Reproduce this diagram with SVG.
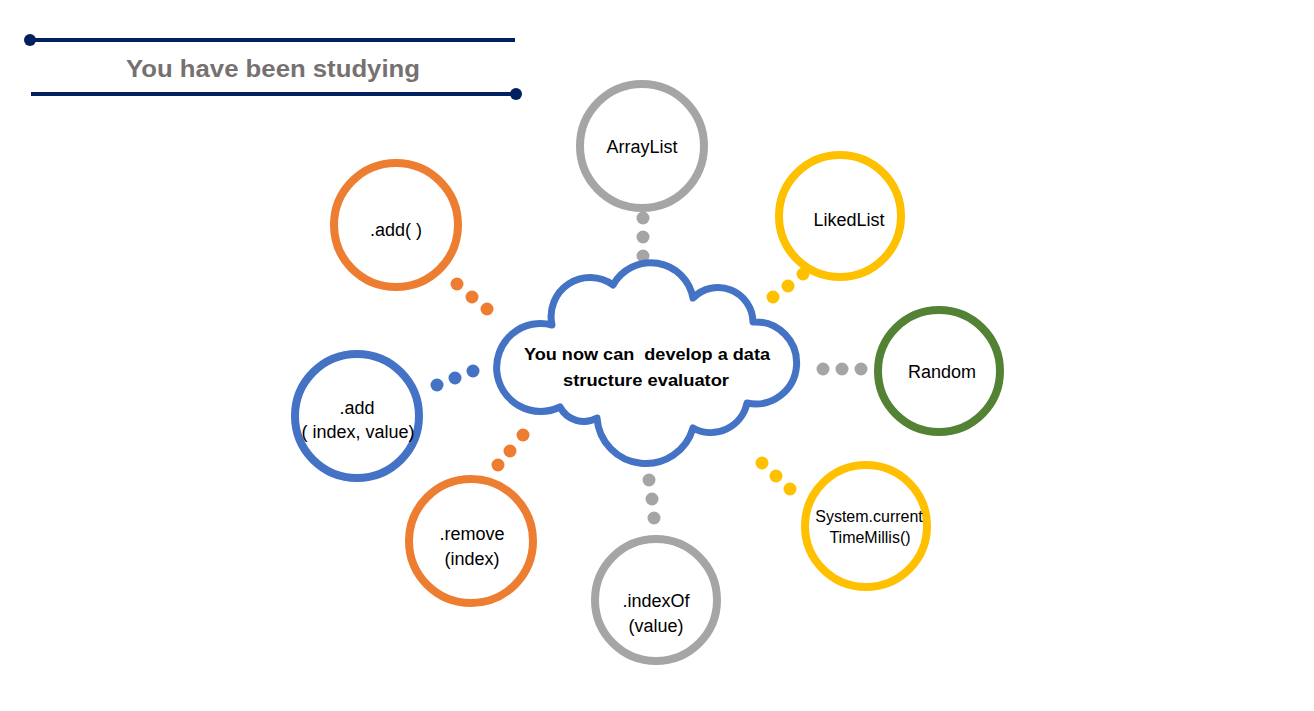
<svg xmlns="http://www.w3.org/2000/svg" width="1314" height="711" viewBox="0 0 1314 711">
<style>
.ring{fill:#fff;stroke-width:8}
.gray{stroke:#A5A5A5}
.orange{stroke:#ED7D31}
.yellow{stroke:#FFC000}
.green{stroke:#548235}
.blue{stroke:#4472C4}
.lbl{font-family:"Liberation Sans",Arial,sans-serif;font-size:18px;fill:#000;text-anchor:middle}
.sm{font-size:16px}
.dg{fill:#A5A5A5}.do{fill:#ED7D31}.dy{fill:#FFC000}.db{fill:#4472C4}
</style>
<rect width="1314" height="711" fill="#fff"/>
<g id="title">
<line x1="30" y1="40" x2="515" y2="40" stroke="#002060" stroke-width="4"/>
<circle cx="30" cy="40" r="6" fill="#002060"/>
<line x1="31" y1="94" x2="516" y2="94" stroke="#002060" stroke-width="4"/>
<circle cx="516" cy="94" r="6" fill="#002060"/>
<text x="273" y="77" font-family="'Liberation Sans',Arial,sans-serif" font-size="24" font-weight="bold" fill="#767171" text-anchor="middle" textLength="294" lengthAdjust="spacingAndGlyphs">You have been studying</text>
</g>
<g id="connectors">
<circle class="dg" cx="643" cy="218" r="6.5"/><circle class="dg" cx="643" cy="237" r="6.5"/><circle class="dg" cx="643" cy="256" r="6.5"/>
<circle class="do" cx="457" cy="284" r="6.5"/><circle class="do" cx="472" cy="297" r="6.5"/><circle class="do" cx="487" cy="309" r="6.5"/>
<circle class="db" cx="437" cy="385" r="6.5"/><circle class="db" cx="455" cy="378" r="6.5"/><circle class="db" cx="473" cy="371" r="6.5"/>
<circle class="dy" cx="773" cy="297" r="6.5"/><circle class="dy" cx="788" cy="286" r="6.5"/><circle class="dy" cx="803" cy="274" r="6.5"/>
<circle class="dg" cx="823" cy="369" r="6.5"/><circle class="dg" cx="842" cy="369" r="6.5"/><circle class="dg" cx="861" cy="369" r="6.5"/>
<circle class="dy" cx="762" cy="463" r="6.5"/><circle class="dy" cx="776" cy="476" r="6.5"/><circle class="dy" cx="790" cy="489" r="6.5"/>
<circle class="do" cx="523" cy="435" r="6.5"/><circle class="do" cx="510" cy="451" r="6.5"/><circle class="do" cx="498" cy="465" r="6.5"/>
<circle class="dg" cx="649" cy="480" r="6.5"/><circle class="dg" cx="652" cy="499" r="6.5"/><circle class="dg" cx="654" cy="518" r="6.5"/>
</g>
<g id="cloud">
<path d="M560 407 A44 44 0 1 1 552 325 A39 39 0 0 1 613 285 A43 43 0 0 1 693 298 A35 35 0 0 1 753 322 A41 41 0 1 1 747 403 A37 37 0 0 1 693 428 A49 49 0 0 1 597 418 A27 27 0 0 1 560 407 Z" fill="#fff" stroke="#4472C4" stroke-width="7" stroke-linejoin="round"/>
<text font-family="'Liberation Sans',Arial,sans-serif" font-size="17" font-weight="bold" fill="#000" text-anchor="middle" xml:space="preserve"><tspan x="647" y="360" textLength="246" lengthAdjust="spacingAndGlyphs">You now can  develop a data</tspan><tspan x="646" y="386" textLength="166" lengthAdjust="spacingAndGlyphs">structure evaluator</tspan></text>
</g>
<g id="arraylist"><circle class="ring gray" cx="642" cy="146" r="62"/><text class="lbl" x="642" y="153">ArrayList</text></g>
<g id="add"><circle class="ring orange" cx="396" cy="225" r="62"/><text class="lbl" x="396" y="236">.add( )</text></g>
<g id="likedlist"><circle class="ring yellow" cx="840" cy="216" r="61"/><text class="lbl" x="849" y="226">LikedList</text></g>
<g id="random"><circle class="ring green" cx="939" cy="371" r="61"/><text class="lbl" x="942" y="378">Random</text></g>
<g id="system"><circle class="ring yellow" cx="866" cy="526" r="61"/><text class="lbl sm"><tspan x="869" y="522">System.current</tspan><tspan x="870" y="543">TimeMillis()</tspan></text></g>
<g id="addindex"><circle class="ring blue" cx="357" cy="416" r="62"/><text class="lbl"><tspan x="357" y="414">.add</tspan><tspan x="358" y="438">( index, value)</tspan></text></g>
<g id="remove"><circle class="ring orange" cx="471" cy="541" r="62"/><text class="lbl"><tspan x="472" y="540">.remove</tspan><tspan x="472" y="565">(index)</tspan></text></g>
<g id="indexof"><circle class="ring gray" cx="656" cy="600" r="61"/><text class="lbl"><tspan x="656" y="607">.indexOf</tspan><tspan x="656" y="632">(value)</tspan></text></g>
</svg>
